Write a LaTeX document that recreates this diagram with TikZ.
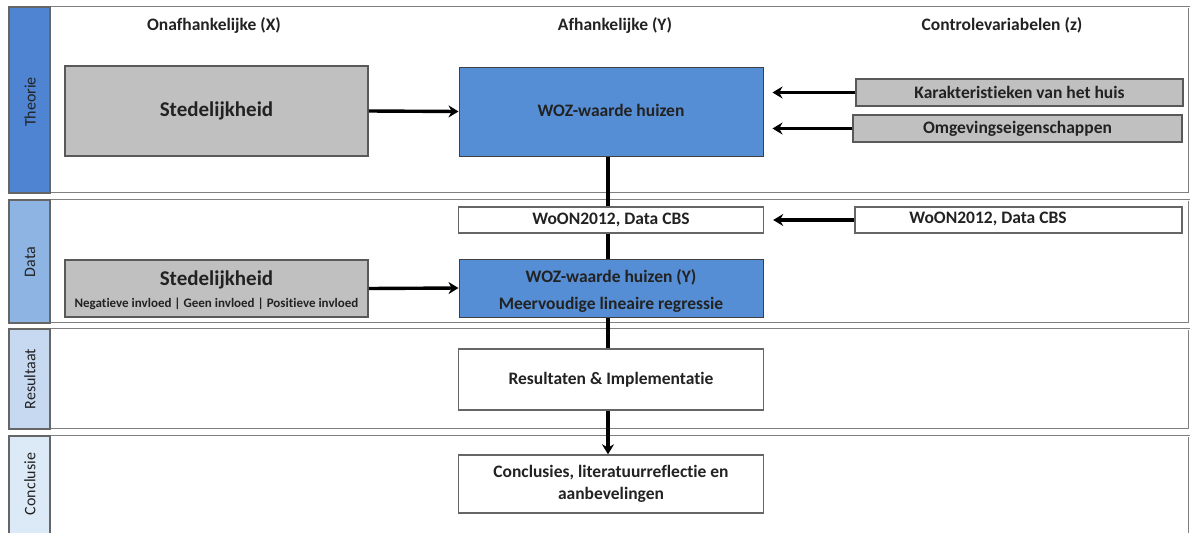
\documentclass[tikz,border=0pt]{standalone}
\usepackage{fontspec}
\setmainfont{Carlito}[Ligatures=NoCommon]
\usetikzlibrary{arrows.meta}
\definecolor{boxblue}{HTML}{558ED5}
\definecolor{bandA}{HTML}{4F84D2}
\definecolor{bandB}{HTML}{8EB4E3}
\definecolor{bandC}{HTML}{C6D9F1}
\definecolor{bandD}{HTML}{DCE9F6}
\definecolor{boxgray}{HTML}{C0C0C0}
\definecolor{txt}{HTML}{222222}
\tikzset{
  lane/.style={draw=black!50, line width=0.9pt, double=white, double distance=1pt},
  band/.style={draw=black!60, line width=1.2pt},
  bandtxt/.style={rotate=90, font=\fontsize{16}{18}\selectfont, text=txt},
  bf/.style={font=\bfseries\fontsize{17.5}{20}\selectfont, text=txt},
  hdr/.style={bf},
  graybox/.style={draw=black!65, line width=1.8pt, fill=boxgray, bf, inner sep=0pt},
  bluebox/.style={draw=black!75, line width=1pt, fill=boxblue, bf, inner sep=0pt},
  whitebox/.style={draw=black!60, line width=1.4pt, fill=white, bf, inner sep=0pt},
  conn/.style={line width=3.4pt, black},
  arr/.style={conn, -{Stealth[length=10pt,width=12pt]}}
}
\begin{document}
\begin{tikzpicture}[x=1pt,y=-1pt]
\useasboundingbox (0,0) rectangle (1192,533);
% lanes
\draw[lane] (9,7) rectangle (1189,193);
\draw[lane] (9,200) rectangle (1189,323);
\draw[lane] (9,329) rectangle (1189,429);
\draw[lane] (9,540) -- (9,436) -- (1189,436) -- (1189,540);
% bands
\filldraw[band, fill=bandA] (9,7) rectangle (50,193);
\filldraw[band, fill=bandB] (9,200) rectangle (50,323);
\filldraw[band, fill=bandC] (9,329) rectangle (50,429);
\fill[bandD] (9,436) rectangle (50,533);
\draw[band] (9,533) -- (9,436) -- (50,436) -- (50,533);
\node[bandtxt] (lt) at (30,102) {Theorie};
\node[bandtxt] (ld) at (30,262) {Data};
\node[bandtxt] (lr) at (30,379) {Resultaat};
\node[bandtxt] (lc) at (30,484) {Conclusie};
% headers
\node[hdr] (hx) at (214,25) {Onafhankelijke (X)};
\node[hdr] (hy) at (615,25) {Afhankelijke (Y)};
\node[hdr] (hz) at (1002,25) {Controlevariabelen (z)};
% Theorie
\node[graybox, minimum width=303pt, minimum height=90pt, font=\bfseries\fontsize{21}{23}\selectfont] (st) at (216.5,111) {Stedelijkheid};
\node[bluebox, minimum width=304pt, minimum height=89pt] (woz) at (611,111.5) {\raisebox{3pt}{WOZ-waarde huizen}};
\node[graybox, minimum width=327pt, minimum height=27pt] (kar) at (1019.5,92.5) {Karakteristieken van het huis};
\node[graybox, minimum width=329pt, minimum height=27pt] (omg) at (1017.5,128.5) {Omgevingseigenschappen};
% Data
\node[whitebox, minimum width=305pt, minimum height=26pt] (won) at (611,220) {WoON2012, Data CBS};
\node[whitebox, minimum width=327pt, minimum height=26pt] (won2) at (1018.5,220) {};
\node[bf] (won2t) at (988,219) {WoON2012, Data CBS};
\node[bluebox, minimum width=304pt, minimum height=58pt] (wozy) at (611,288) {};
\node[bf] (wozy1) at (611,277) {WOZ-waarde huizen (Y)};
\node[bf] (wozy2) at (611,305) {Meervoudige lineaire regressie};
\node[graybox, minimum width=303pt, minimum height=57pt] (sd) at (216.5,288.5) {};
\node[bf, font=\bfseries\fontsize{21}{23}\selectfont] (sd1) at (216.5,280) {Stedelijkheid};
\node[bf, font=\bfseries\fontsize{13}{15}\selectfont] (sd2) at (216.5,304) {Negatieve invloed | Geen invloed | Positieve invloed};
% Resultaat / Conclusie
\node[whitebox, minimum width=305pt, minimum height=61pt] (res) at (611,379.5) {\raisebox{2pt}{Resultaten \& Implementatie}};
\node[whitebox, minimum width=305pt, minimum height=58pt, align=center] (con) at (611,484) {Conclusies, literatuurreflectie en\\[2pt]aanbevelingen};
% connectors
\draw[arr] (st.east) -- (woz.west);
\draw[arr] (kar.west) -- ([xshift=9pt]woz.east |- kar.west);
\draw[arr] (omg.west) -- ([xshift=9pt]woz.east |- omg.west);
\draw[arr] (won2.west) -- ([xshift=9pt]won.east);
\draw[arr] (sd.east) -- (wozy.west);
\draw[conn] ([xshift=-3pt]woz.south) -- ([xshift=-3pt]won.north);
\draw[conn] ([xshift=-3pt]won.south) -- ([xshift=-3pt]wozy.north);
\draw[conn] ([xshift=-3pt]wozy.south) -- ([xshift=-3pt]res.north);
\draw[arr] ([xshift=-3pt]res.south) -- ([xshift=-3pt]con.north);
\end{tikzpicture}
\end{document}
